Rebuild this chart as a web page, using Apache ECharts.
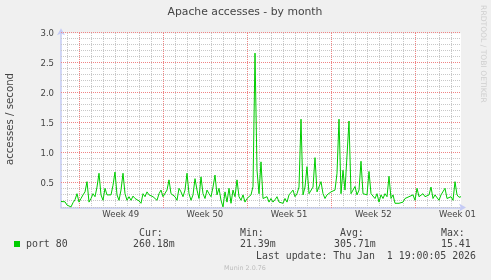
<!DOCTYPE html>
<html><head><meta charset="utf-8">
<script src="https://cdn.jsdelivr.net/npm/echarts@6/dist/echarts.min.js"></script>
<style>html,body{margin:0;padding:0;background:#f0f0f0;}#c{width:491px;height:280px;}</style>
</head><body><div id="c"></div>
<script>
// ---- data ----
const chartTitle = 'Apache accesses - by month';
const yAxisName = 'accesses / second';
const seriesName = 'port 80';
const weekLabels = ['Week 49', 'Week 50', 'Week 51', 'Week 52', 'Week 01'];
const weekStartDays = [0, 7, 14, 21, 28];          // days since Mon 1 Dec 2025 00:00
const yMajorTicks = [0.5, 1.0, 1.5, 2.0, 2.5, 3.0];
const yMin = 0.1, yMax = 3.0, yMinorStep = 0.1;
const startDay = -1.46;                             // Sat 29 Nov 2025 ~13:00
const endDay = 31.79;                               // Thu 1 Jan 2026 19:00
const values = [
  0.20,0.18,0.195,0.14,0.165,0.11,0.18,0.23,0.33,0.19,
  0.25,0.31,0.36,0.53,0.19,0.25,0.33,0.28,0.44,0.67,
  0.31,0.22,0.42,0.31,0.33,0.31,0.47,0.69,0.31,0.22,
  0.39,0.67,0.33,0.22,0.28,0.22,0.29,0.25,0.28,0.21,
  0.17,0.33,0.28,0.36,0.31,0.33,0.28,0.28,0.22,0.33,
  0.39,0.28,0.31,0.39,0.56,0.33,0.31,0.28,0.22,0.42,
  0.36,0.28,0.39,0.67,0.33,0.22,0.31,0.58,0.39,0.25,
  0.61,0.33,0.25,0.39,0.33,0.28,0.44,0.64,0.31,0.42,
  0.22,0.11,0.36,0.19,0.42,0.17,0.39,0.28,0.56,0.28,
  0.22,0.31,0.19,0.25,0.22,0.31,0.45,2.67,0.72,0.33,
  0.86,0.25,0.22,0.28,0.19,0.25,0.19,0.23,0.28,0.19,
  0.22,0.17,0.25,0.19,0.31,0.33,0.39,0.28,0.33,0.44,
  1.57,0.31,0.44,0.78,0.33,0.36,0.44,0.93,0.36,0.39,
  0.53,0.33,0.25,0.31,0.28,0.36,0.33,0.39,0.67,1.57,
  0.33,0.72,0.39,0.36,1.54,0.33,0.39,0.45,0.31,0.39,
  0.87,0.33,0.36,0.31,0.70,0.33,0.31,0.25,0.33,0.19,
  0.31,0.25,0.33,0.28,0.62,0.25,0.31,0.17,0.19,0.17,
  0.18,0.19,0.25,0.22,0.28,0.25,0.31,0.22,0.42,0.28,
  0.25,0.33,0.28,0.25,0.31,0.44,0.25,0.31,0.28,0.22,
  0.31,0.28,0.42,0.25,0.23,0.28,0.22,0.53,0.31,0.27,
  0.28
];
const statHeaders = ['Cur:', 'Min:', 'Avg:', 'Max:'];
const statValues = ['260.18m', '21.39m', '305.71m', '15.41'];
const lastUpdate = 'Last update: Thu Jan  1 19:00:05 2026';
const footer = 'Munin 2.0.76';
const watermark = 'RRDTOOL / TOBI OETIKER';

// ---- build ----
const step = (endDay - startDay) / (values.length - 1);
const lineData = values.map((v, i) => [startDay + i * step, v]);

const GREEN = '#00cc00';
const TXT = '#444';
const SANS = 'DejaVu Sans';
const MONO = 'DejaVu Sans Mono';
const AXIS = '#c5cbf5';
const MINOR = '#c8c8c8';
const MAJOR = '#f08484';

const labelPos = weekStartDays.map(d => d + 3.5);

const statCols = [139, 240, 340, 441];
const statValX = [133, 240, 334, 441];
const graphics = [
  {type: 'text', x: 245, y: 12, style: {text: chartTitle, font: '10.8px "' + SANS + '"', fill: TXT, align: 'center', verticalAlign: 'middle'}},
  {type: 'text', x: 10.5, y: 119, rotation: Math.PI / 2, style: {text: yAxisName, font: '10.2px "' + SANS + '"', fill: TXT, align: 'center', verticalAlign: 'middle'}},
  {type: 'text', x: 483, y: 54, rotation: -Math.PI / 2, style: {text: watermark, font: '7.6px "' + SANS + '"', fill: '#cfcfcf', align: 'center', verticalAlign: 'middle'}},
  {type: 'rect', shape: {x: 14, y: 241, width: 6, height: 6}, style: {fill: GREEN}},
  {type: 'text', x: 26, y: 244.5, style: {text: seriesName, font: '9.9px "' + MONO + '"', fill: TXT, align: 'left', verticalAlign: 'middle'}},
  {type: 'text', x: 256, y: 256.3, style: {text: lastUpdate, font: '9.9px "' + MONO + '"', fill: TXT, align: 'left', verticalAlign: 'middle'}},
  {type: 'text', x: 245, y: 268.5, style: {text: footer, font: '6.4px "' + SANS + '"', fill: '#bdbdbd', align: 'center', verticalAlign: 'middle'}}
];
statHeaders.forEach((h, i) => graphics.push({type: 'text', x: statCols[i], y: 233.3, style: {text: h, font: '9.9px "' + MONO + '"', fill: TXT, align: 'left', verticalAlign: 'middle'}}));
statValues.forEach((h, i) => graphics.push({type: 'text', x: statValX[i], y: 244.5, style: {text: h, font: '9.9px "' + MONO + '"', fill: TXT, align: 'left', verticalAlign: 'middle'}}));

const chart = echarts.init(document.getElementById('c'), null, {renderer: 'canvas'});
chart.setOption({
  backgroundColor: '#f0f0f0',
  animation: false,
  grid: {left: 61, top: 33.3, width: 400, height: 174.2, show: true, backgroundColor: '#ffffff', borderWidth: 0, containLabel: false, outerBoundsMode: 'none'},
  xAxis: {
    type: 'value', min: startDay, max: endDay,
    axisLine: {show: true, onZero: false, lineStyle: {color: AXIS, width: 1.5}, symbol: ['none', 'arrow'], symbolSize: [6, 7], symbolOffset: [0, 5]},
    axisTick: {show: false},
    splitLine: {show: false},
    axisLabel: {
      customValues: labelPos,
      formatter: v => { const k = labelPos.findIndex(p => Math.abs(p - v) < 1e-6); return k >= 0 ? weekLabels[k] : ''; },
      fontSize: 8.5, fontFamily: SANS, color: TXT, margin: 3
    }
  },
  yAxis: {
    type: 'value', min: yMin, max: yMax,
    axisLine: {show: true, onZero: false, lineStyle: {color: AXIS, width: 1.5}, symbol: ['none', 'arrow'], symbolSize: [6, 7], symbolOffset: [0, 5]},
    axisTick: {show: false},
    splitLine: {show: false},
    axisLabel: {
      customValues: yMajorTicks,
      formatter: v => v.toFixed(1),
      fontSize: 8.5, fontFamily: SANS, color: TXT, margin: 7
    }
  },
  series: [
    {name: seriesName, type: 'line', data: lineData, z: 3, showSymbol: false, symbol: 'none',
     lineStyle: {color: GREEN, width: 1}, itemStyle: {color: GREEN}, silent: true}
  ],
  graphic: graphics
});

// grid lines placed through the chart's own scales
const minorEls = [], majorEls = [];
const pBL = chart.convertToPixel({gridIndex: 0}, [startDay, yMin]);
const pTR = chart.convertToPixel({gridIndex: 0}, [endDay, yMax]);
const yBot = Math.round(pBL[1]), yTop = Math.round(pTR[1]);
const xLeft = Math.round(pBL[0]), xRight = Math.round(pTR[0]);
function vLine(d, major) {
  const x = Math.round(chart.convertToPixel({gridIndex: 0}, [d, yMin])[0]) + 0.5;
  (major ? majorEls : minorEls).push({type: 'line', silent: true, z: 1,
    shape: {x1: x, y1: yTop, x2: x, y2: yBot},
    style: {stroke: major ? MAJOR : MINOR, lineWidth: 1, lineDash: [1, 1]}});
}
function hLine(v, major) {
  const y = Math.round(chart.convertToPixel({gridIndex: 0}, [startDay, v])[1]) - 0.5;
  (major ? majorEls : minorEls).push({type: 'line', silent: true, z: 1,
    shape: {x1: xLeft, y1: y, x2: xRight, y2: y},
    style: {stroke: major ? MAJOR : MINOR, lineWidth: 1, lineDash: [1, 1]}});
}
for (let d = Math.ceil(startDay); d <= Math.floor(endDay); d++) vLine(d, weekStartDays.indexOf(d) >= 0);
const nMinor = Math.round((yMax - yMin) / yMinorStep);
for (let k = 0; k <= nMinor; k++) {
  const v = +(yMin + k * yMinorStep).toFixed(3);
  hLine(v, yMajorTicks.some(t => Math.abs(t - v) < 1e-6));
}
chart.setOption({graphic: graphics.concat(minorEls, majorEls)});
</script>
</body></html>
